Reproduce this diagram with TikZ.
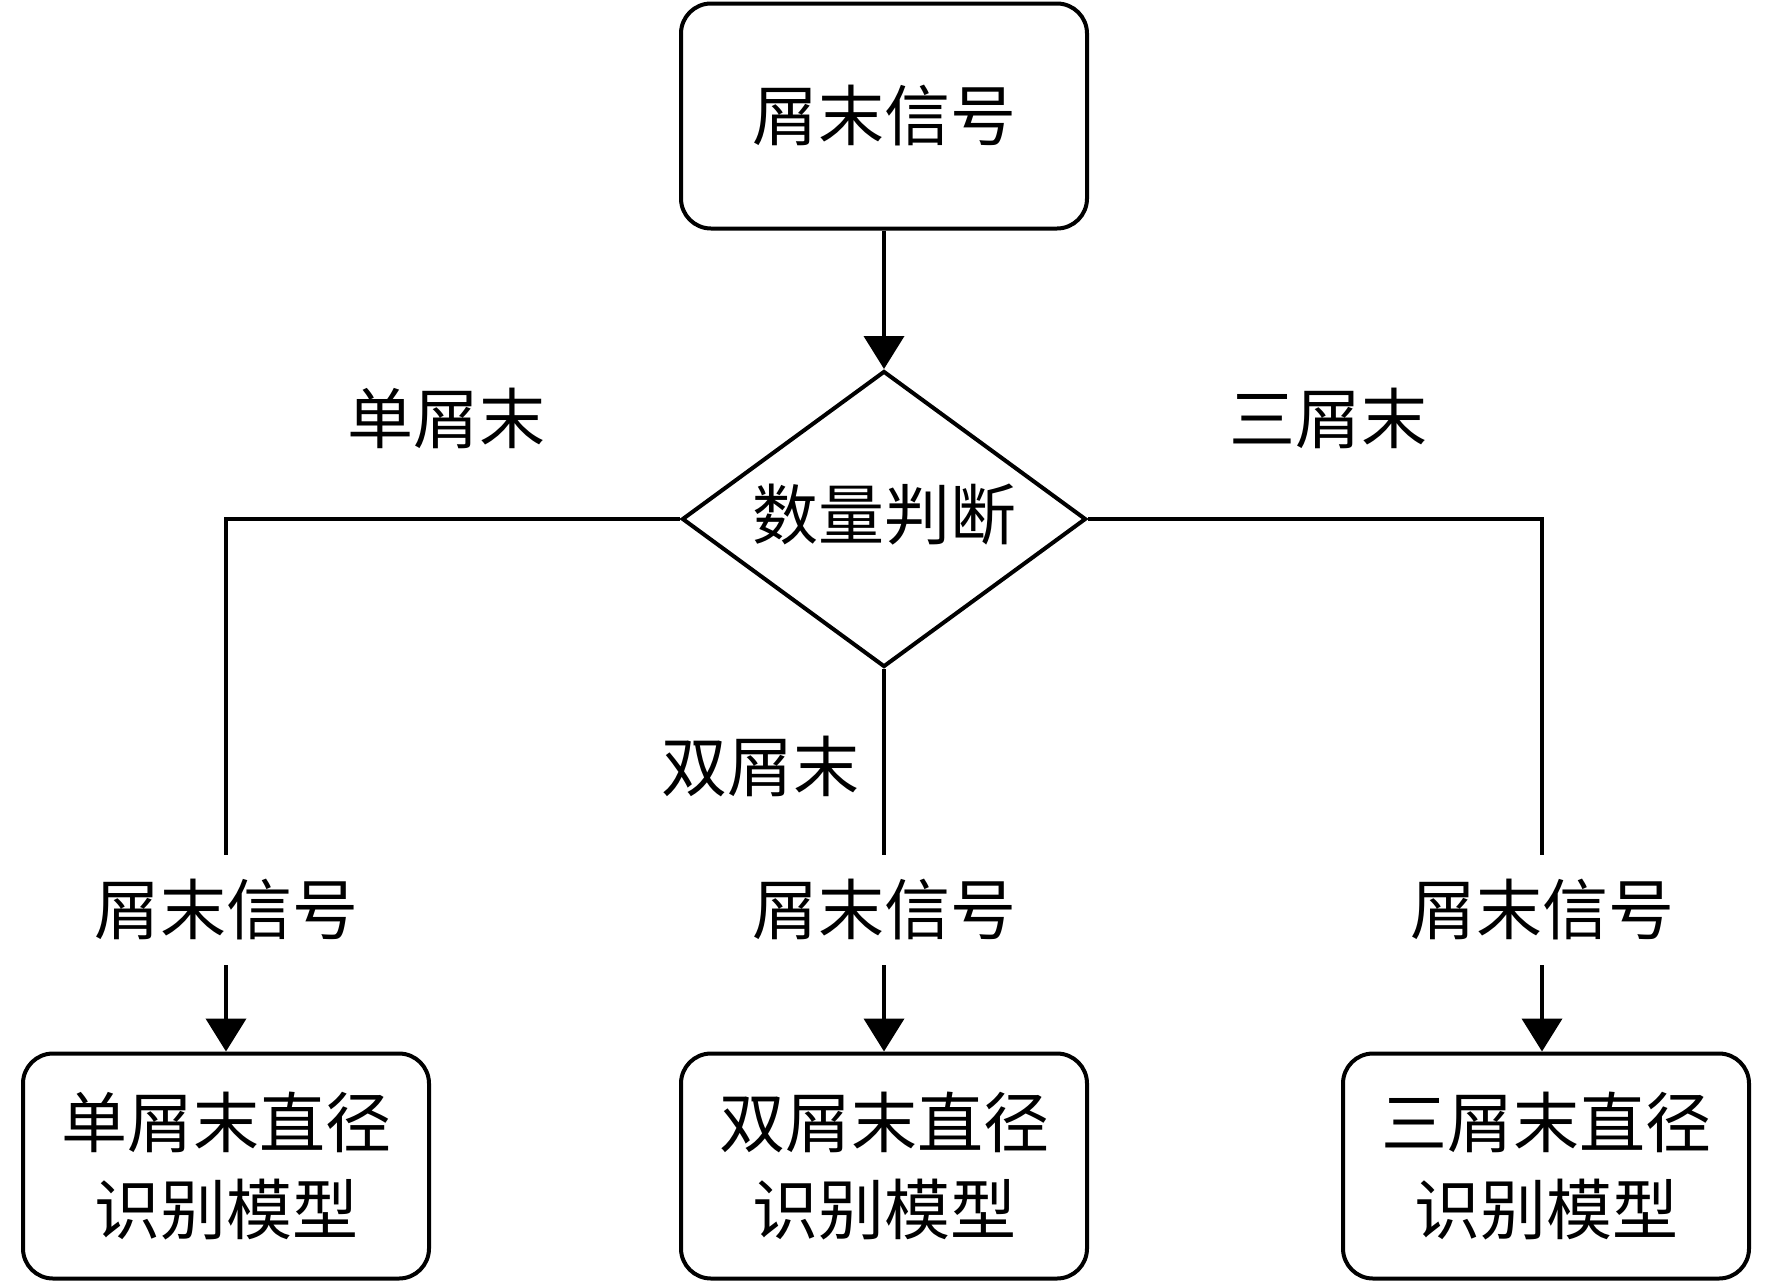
\documentclass[tikz,border=0pt]{standalone}
\usepackage{fontspec}
\newfontfamily\cjk{Noto Sans CJK SC}
\usetikzlibrary{shapes.geometric,arrows.meta}
\begin{document}
\begin{tikzpicture}[x=1pt,y=-1pt,
  every node/.style={font=\cjk\fontsize{66}{88}\selectfont, inner sep=0pt},
  box/.style={draw, line width=4pt, rounded corners=30pt, minimum width=406pt, minimum height=225pt, align=center},
  dec/.style={draw, diamond, line width=4pt, minimum width=404pt, minimum height=296pt},
  sig/.style={minimum height=110pt},
  conn/.style={line width=4pt},
  arr/.style={line width=4pt, -{Triangle[width=40pt,length=33pt]}}]
\useasboundingbox (0,0) rectangle (1772,1283);
\node[box] (top) at (884,116) {屑末信号};
\node[dec] (d) at (884,519) {};
\node (dt) at (884,515) {数量判断};
\node[sig] (sL) at (226,910) {屑末信号};
\node[sig] (sM) at (884,910) {屑末信号};
\node[sig] (sR) at (1542,910) {屑末信号};
\node[box] (bL) at (226,1166) {单屑末直径\\识别模型};
\node[box] (bM) at (884,1166) {双屑末直径\\识别模型};
\node[box] (bR) at (1546,1166) {三屑末直径\\识别模型};
\node (lL) at (446,418) {单屑末};
\node (lR) at (1328,418) {三屑末};
\node (lM) at (760,766) {双屑末};
\draw[arr] (top.south) -- (d.north);
\draw[conn] (d.west) -| (sL.north);
\draw[conn] (d.south) -- (sM.north);
\draw[conn] (d.east) -| (sR.north);
\draw[arr] (sL.south) -- (bL.north);
\draw[arr] (sM.south) -- (bM.north);
\draw[arr] (sR.south) -- (sR.south |- bR.north);
\end{tikzpicture}
\end{document}
